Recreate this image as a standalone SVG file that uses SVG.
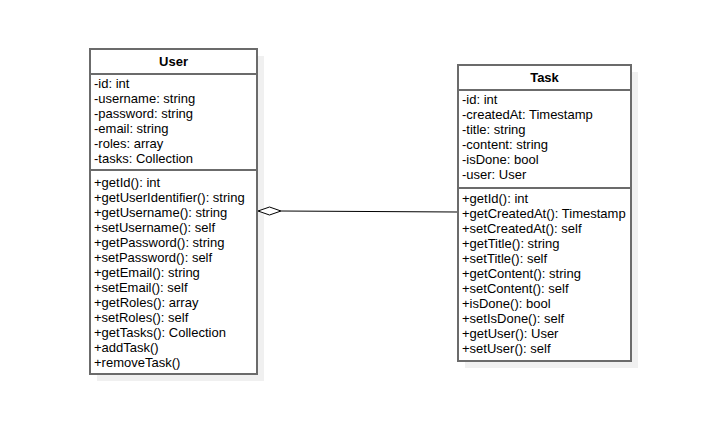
<svg xmlns="http://www.w3.org/2000/svg" width="702" height="424" viewBox="0 0 702 424">
<style>
.shadow{fill:#f0f0f0;stroke:none}
.box{fill:#ffffff;stroke:#6b6b6b;stroke-width:2}
.sep{stroke:#6b6b6b;stroke-width:2}
.t{font-family:"Liberation Sans",Arial,sans-serif;font-size:13px;fill:#000}
.title{font-family:"Liberation Sans",Arial,sans-serif;font-size:13px;font-weight:bold;fill:#000;text-anchor:middle}
.conn{fill:none;stroke:#000;stroke-width:1}
</style>
<rect width="702" height="424" fill="#ffffff"/>
<g id="User">
<rect class="shadow" x="97" y="56" width="167" height="325"/>
<rect class="box" x="90" y="49" width="167" height="325"/>
<line class="sep" x1="90" y1="74" x2="257" y2="74"/>
<line class="sep" x1="90" y1="170" x2="257" y2="170"/>
<text class="title" x="173.5" y="66">User</text>
<text class="t" x="94">
<tspan x="94" y="88">-id: int</tspan>
<tspan x="94" y="103">-username: string</tspan>
<tspan x="94" y="118">-password: string</tspan>
<tspan x="94" y="133">-email: string</tspan>
<tspan x="94" y="148">-roles: array</tspan>
<tspan x="94" y="163">-tasks: Collection</tspan>
</text>
<text class="t" x="94">
<tspan x="94" y="187">+getId(): int</tspan>
<tspan x="94" y="202">+getUserIdentifier(): string</tspan>
<tspan x="94" y="217">+getUsername(): string</tspan>
<tspan x="94" y="232">+setUsername(): self</tspan>
<tspan x="94" y="247">+getPassword(): string</tspan>
<tspan x="94" y="262">+setPassword(): self</tspan>
<tspan x="94" y="277">+getEmail(): string</tspan>
<tspan x="94" y="292">+setEmail(): self</tspan>
<tspan x="94" y="307">+getRoles(): array</tspan>
<tspan x="94" y="322">+setRoles(): self</tspan>
<tspan x="94" y="337">+getTasks(): Collection</tspan>
<tspan x="94" y="352">+addTask()</tspan>
<tspan x="94" y="367">+removeTask()</tspan>
</text>
</g>
<g id="Task">
<rect class="shadow" x="465" y="72" width="173" height="296"/>
<rect class="box" x="458" y="65" width="173" height="296"/>
<line class="sep" x1="458" y1="90" x2="631" y2="90"/>
<line class="sep" x1="458" y1="188" x2="631" y2="188"/>
<text class="title" x="544.5" y="82">Task</text>
<text class="t" x="462">
<tspan x="462" y="104">-id: int</tspan>
<tspan x="462" y="119">-createdAt: Timestamp</tspan>
<tspan x="462" y="134">-title: string</tspan>
<tspan x="462" y="149">-content: string</tspan>
<tspan x="462" y="164">-isDone: bool</tspan>
<tspan x="462" y="179">-user: User</tspan>
</text>
<text class="t" x="462">
<tspan x="462" y="203">+getId(): int</tspan>
<tspan x="462" y="218">+getCreatedAt(): Timestamp</tspan>
<tspan x="462" y="233">+setCreatedAt(): self</tspan>
<tspan x="462" y="248">+getTitle(): string</tspan>
<tspan x="462" y="263">+setTitle(): self</tspan>
<tspan x="462" y="278">+getContent(): string</tspan>
<tspan x="462" y="293">+setContent(): self</tspan>
<tspan x="462" y="308">+isDone(): bool</tspan>
<tspan x="462" y="323">+setIsDone(): self</tspan>
<tspan x="462" y="338">+getUser(): User</tspan>
<tspan x="462" y="353">+setUser(): self</tspan>
</text>
</g>
<g id="connectors">
<line class="conn" x1="281" y1="211" x2="457" y2="212"/>
<polygon points="258,211 269.5,207 281,211 269.5,215" fill="#ffffff" stroke="#000" stroke-width="1"/>
</g>
</svg>
